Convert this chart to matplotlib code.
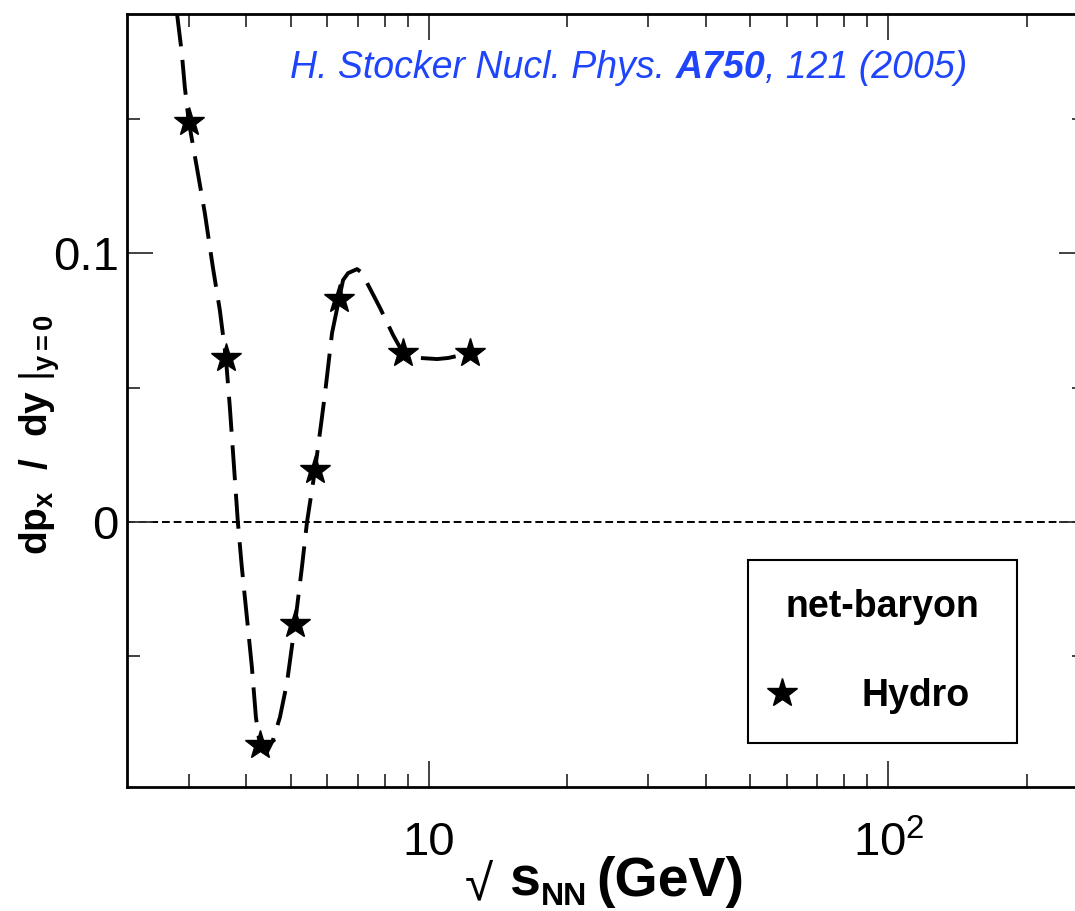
import matplotlib
matplotlib.use("Agg")
import matplotlib.pyplot as plt
from matplotlib.lines import Line2D
from matplotlib.ticker import FixedLocator, FixedFormatter, LogLocator, NullFormatter

plt.rcParams['font.family'] = 'Liberation Sans'
plt.rcParams['mathtext.fontset'] = 'custom'
plt.rcParams['mathtext.rm'] = 'Liberation Sans'
plt.rcParams['mathtext.bf'] = 'Liberation Sans:bold'
plt.rcParams['mathtext.it'] = 'Liberation Sans:italic'

# hydro points (sqrt(s_NN) in GeV, dp_x/dy at y=0)
hydro_x = [2.997, 3.609, 4.279, 5.103, 5.642, 6.364, 8.777, 12.28]
hydro_y = [0.1489, 0.0610, -0.0832, -0.0381, 0.0193, 0.0829, 0.0628, 0.0628]

# dashed curve
curve_x = [2.821, 2.893, 2.937, 2.997, 3.119, 3.247, 3.380, 3.501, 3.609, 3.681,
           3.737, 3.832, 3.909, 4.009, 4.111, 4.195, 4.279, 4.433, 4.569, 4.732,
           4.901, 5.103, 5.284, 5.420, 5.642, 5.843, 5.933, 6.145, 6.364, 6.494,
           6.659, 6.966, 7.107, 7.251, 7.819, 8.347, 8.777, 9.559, 10.41, 11.00,
           12.28]
curve_y = [0.1900, 0.1746, 0.1619, 0.1489, 0.1321, 0.1150, 0.0949, 0.0788, 0.0610, 0.0427,
           0.0267, -0.0001, -0.0169, -0.0355, -0.0541, -0.0728, -0.0832, -0.0858, -0.0813, -0.0728,
           -0.0601, -0.0381, -0.0169, -0.0001, 0.0193, 0.0390, 0.0479, 0.0703, 0.0829, 0.0900,
           0.0926, 0.0941, 0.0930, 0.0904, 0.0796, 0.0695, 0.0628, 0.0610, 0.0606, 0.0610,
           0.0628]

ytick_vals = [0, 0.1]
ytick_labels = ['0', '0.1']
yminor_vals = [-0.05, 0.05, 0.15]
xtick_vals = [10, 100]
xtick_labels = ['10', r'$\mathdefault{10^{2}}$']

W, H = 1075, 911
fig = plt.figure(figsize=(W / 100, H / 100), dpi=100)
ax = fig.add_axes([127 / W, 1 - 786.5 / H, 958 / W, 773 / H])

ax.axhline(0, color='black', lw=1.4, ls=(0, (4, 2)), zorder=1)
ax.plot(curve_x, curve_y, color='black', lw=2.8, ls=(0, (9, 3.5)), zorder=2)
ax.plot(hydro_x, hydro_y, ls='none', marker='*', ms=22, color='black', zorder=3)

ax.set_xscale('log')
ax.set_xlim(2.198, 268)
ax.set_ylim(-0.0986, 0.1893)

ax.xaxis.set_major_locator(FixedLocator(xtick_vals))
ax.xaxis.set_major_formatter(FixedFormatter(xtick_labels))
ax.xaxis.set_minor_locator(LogLocator(base=10, subs=range(2, 10)))
ax.xaxis.set_minor_formatter(NullFormatter())
ax.yaxis.set_major_locator(FixedLocator(ytick_vals))
ax.yaxis.set_major_formatter(FixedFormatter(ytick_labels))
ax.yaxis.set_minor_locator(FixedLocator(yminor_vals))

ax.tick_params(which='both', direction='in', top=True, right=True, width=1.3, color='#333333')
ax.tick_params(which='major', length=18.5, labelsize=34)
ax.tick_params(which='minor', length=9.5)
ax.tick_params(axis='x', which='major', pad=25)
ax.tick_params(axis='y', which='major', pad=6)
for sp in ax.spines.values():
    sp.set_linewidth(2.0)

# y label
ax.set_ylabel(r'$\mathbf{dp_{x}}\ \ \mathbf{/}\ \ \left.\mathbf{dy}\ \right|_{\mathbf{y=0}}$',
              fontsize=28, va='center')
ax.yaxis.set_label_coords(-0.091, 0.455)

# x label built from pieces
def ftext(px, py, s, **kw):
    return fig.text(px / W, 1 - py / H, s, va='baseline', ha='left', **kw)

ftext(465, 899, '\u221a', fontsize=37)
ftext(509, 896, 's', fontsize=40, fontweight='bold')
ftext(541, 905, 'NN', fontsize=23, fontweight='bold')
ftext(596, 896, '(GeV)', fontsize=40, fontweight='bold')

# citation
blue = '#1f45fc'
t1 = ax.text((290 - 127) / 958, (786.5 - 78) / 773, 'H. Stocker Nucl. Phys. ',
             transform=ax.transAxes, fontsize=27, style='italic', color=blue, va='baseline')
t2 = ax.annotate('A750', xy=(1, 0), xycoords=t1, va='bottom', fontsize=27,
                 style='italic', fontweight='bold', color=blue)
ax.annotate(', 121 (2005)', xy=(1, 0), xycoords=t2, va='bottom', fontsize=27,
            style='italic', color=blue)

# legend
proxy = Line2D([], [], ls='none', marker='*', ms=22, color='black')
leg = ax.legend(handles=[proxy], labels=['Hydro'], title='net-baryon',
                loc='upper left', mode='expand',
                bbox_to_anchor=((748 - 127) / 958, (786.5 - 741) / 773, 269 / 958, 181 / 773),
                borderaxespad=0, fancybox=False, edgecolor='black', framealpha=1,
                borderpad=0.78, handlelength=0.25, handletextpad=2.0, labelspacing=1.41,
                prop={'size': 27, 'weight': 'bold'},
                title_fontproperties={'size': 27, 'weight': 'bold'})
leg.get_frame().set_linewidth(1.5)

fig.savefig('out.png', dpi=100)
